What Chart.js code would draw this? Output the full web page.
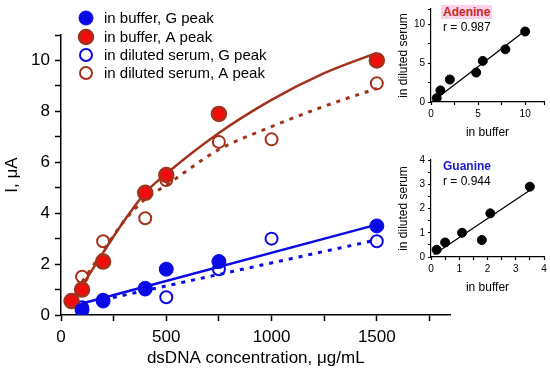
<!DOCTYPE html>
<html>
<head>
<meta charset="utf-8">
<script src="https://cdn.jsdelivr.net/npm/chart.js@4"></script>
<style>
  body { margin: 0; background: #fff; }
  #wrap { position: relative; width: 550px; height: 375px; overflow: hidden; font-family: "Liberation Sans", Arial, sans-serif; }
  canvas { position: absolute; }
  .lbl { position: absolute; font-size: 12px; line-height: 14px; white-space: nowrap; }
</style>
</head>
<body>
<div id="wrap">
  <canvas id="mainChart" width="460" height="375" style="left:0;top:0"></canvas>
  <canvas id="adenineChart" width="170" height="145" style="left:380px;top:0"></canvas>
  <canvas id="guanineChart" width="170" height="150" style="left:380px;top:150px"></canvas>
  <div class="lbl" style="left:441px;top:5px;color:#c8281e;font-weight:bold;background:#f8d2ea;padding:0 2px">Adenine</div>
  <div class="lbl" style="left:443px;top:20px">r = 0.987</div>
  <div class="lbl" style="left:443px;top:159px;color:#1a1ad0;font-weight:bold">Guanine</div>
  <div class="lbl" style="left:443px;top:174px">r = 0.944</div>
</div>
<script>
// Main chart data (dsDNA concentration, µg/mL vs I, µA)
const bufGConc = [100, 200, 400, 500, 750, 1500];
const bufGVals = [0.2, 0.55, 1.05, 1.8, 2.1, 3.5];
const bufAConc = [50, 100, 200, 400, 500, 750, 1500];
const bufAVals = [0.55, 1.0, 2.1, 4.8, 5.5, 7.9, 10.0];
const serGConc = [100, 200, 400, 500, 750, 1000, 1500];
const serGVals = [0.3, 0.6, 1.0, 0.7, 1.8, 3.0, 2.9];
const serAConc = [50, 100, 200, 400, 500, 750, 1000, 1500];
const serAVals = [0.5, 1.5, 2.9, 3.8, 5.3, 6.8, 6.9, 9.1];

// fitted curves
const fitABufX = [50, 100, 200, 300, 400, 500, 750, 1000, 1250, 1500];
const fitABufY = [0.55, 1.15, 2.45, 3.7, 4.8, 5.55, 7.15, 8.45, 9.5, 10.3];
const fitASerX = [100, 200, 300, 400, 500, 750, 1000, 1250, 1500];
const fitASerY = [1.3, 2.5, 3.7, 4.55, 5.1, 6.5, 7.4, 8.2, 8.9];
const fitGBufX = [100, 1500];
const fitGBufY = [0.45, 3.55];
const fitGSerX = [200, 1500];
const fitGSerY = [0.6, 2.95];

const legendLabels = ['in buffer, G peak', 'in buffer, A peak', 'in diluted serum, G peak', 'in diluted serum, A peak'];

// Insets: in buffer vs in diluted serum
const adeBuffer = [0.6, 1.0, 2.0, 4.8, 5.5, 7.9, 10.0];
const adeSerum = [0.5, 1.5, 2.9, 3.8, 5.3, 6.8, 9.1];
const adeLineX = [0.4, 10.1];
const adeLineY = [0.3, 9.3];
const guaBuffer = [0.2, 0.5, 1.1, 1.8, 2.1, 3.5];
const guaSerum = [0.3, 0.6, 1.0, 0.7, 1.8, 2.9];
const guaLineX = [0.1, 3.5];
const guaLineY = [0.1, 2.75];

const BLUE = '#0a0ae6';
const BROWN = '#a3321c';
const RED = '#f20d0d';
const FONT = '"Liberation Sans", Arial, sans-serif';

const pts = (xs, ys) => xs.map((x, i) => ({x: x, y: ys[i]}));

// custom legend drawn in the upper-left
const legendPlugin = {
  id: 'miniLegend',
  afterDraw(chart) {
    const ctx = chart.ctx;
    const rows = [18, 37, 55, 73];
    ctx.save();
    chart.data.datasets.slice(0, 4).forEach((ds, i) => {
      ctx.beginPath();
      ctx.arc(86, rows[i], i < 2 ? 7 : 6, 0, Math.PI * 2);
      ctx.fillStyle = ds.backgroundColor;
      ctx.fill();
      ctx.lineWidth = ds.borderWidth;
      ctx.strokeStyle = ds.borderColor;
      ctx.stroke();
      ctx.fillStyle = '#000';
      ctx.font = '15px ' + FONT;
      ctx.textBaseline = 'middle';
      ctx.fillText(legendLabels[i], 104, rows[i] + 1);
    });
    ctx.restore();
  }
};

const axisBase = {
  border: {color: '#000', width: 1.5},
  grid: {drawOnChartArea: false, drawTicks: true, tickLength: 6, tickColor: '#000', tickWidth: 1.5}
};

new Chart(document.getElementById('mainChart'), {
  type: 'scatter',
  data: {
    datasets: [
      {data: pts(bufGConc, bufGVals), backgroundColor: BLUE, borderColor: BLUE, borderWidth: 1, pointRadius: 7},
      {data: pts(bufAConc, bufAVals), backgroundColor: RED, borderColor: BROWN, borderWidth: 2.5, pointRadius: 7},
      {data: pts(serGConc, serGVals), backgroundColor: 'rgba(255,255,255,0)', borderColor: BLUE, borderWidth: 2, pointRadius: 6},
      {data: pts(serAConc, serAVals), backgroundColor: 'rgba(255,255,255,0)', borderColor: BROWN, borderWidth: 2, pointRadius: 6},
      {data: pts(fitABufX, fitABufY), showLine: true, pointRadius: 0, borderColor: BROWN, borderWidth: 2.5, cubicInterpolationMode: 'monotone'},
      {data: pts(fitASerX, fitASerY), showLine: true, pointRadius: 0, borderColor: BROWN, borderWidth: 3, borderDash: [4, 6], cubicInterpolationMode: 'monotone'},
      {data: pts(fitGBufX, fitGBufY), showLine: true, pointRadius: 0, borderColor: BLUE, borderWidth: 2.5},
      {data: pts(fitGSerX, fitGSerY), showLine: true, pointRadius: 0, borderColor: BLUE, borderWidth: 3, borderDash: [4, 6]}
    ]
  },
  options: {
    responsive: false,
    animation: false,
    layout: {padding: {top: 35, right: 9, left: 0, bottom: 0}},
    plugins: {legend: {display: false}, tooltip: {enabled: false}},
    scales: {
      x: {
        ...axisBase,
        type: 'linear', min: 0, max: 1850,
        afterFit(scale) { scale.height = 60; },
        ticks: {stepSize: 250, includeBounds: false, autoSkip: false, maxRotation: 0, padding: 6, color: '#000',
          font: {family: FONT, size: 17},
          callback: v => (v % 500 === 0 ? v : '')},
        title: {display: true, text: 'dsDNA concentration, \u03bcg/mL', color: '#000',
          font: {family: FONT, size: 17}, padding: {top: 0, bottom: 6}}
      },
      y: {
        ...axisBase,
        min: 0, max: 11,
        afterFit(scale) { scale.width = 61; },
        ticks: {stepSize: 1, autoSkip: false, padding: 5, color: '#000',
          font: {family: FONT, size: 17},
          callback: v => (v % 2 === 0 ? v : '')},
        title: {display: true, text: 'I, \u03bcA', color: '#000',
          font: {family: FONT, size: 17}, padding: {top: 2, bottom: 0}}
      }
    }
  },
  plugins: [legendPlugin]
});

function insetChart(id, xs, ys, lx, ly, maxV, step, labelStep, topPad, chartBottom) {
  const canvas = document.getElementById(id);
  return new Chart(canvas, {
    type: 'scatter',
    data: {
      datasets: [
        {data: pts(xs, ys), backgroundColor: '#000', borderColor: '#000', pointRadius: 4.5},
        {data: pts(lx, ly), showLine: true, pointRadius: 0, borderColor: '#000', borderWidth: 1.3}
      ]
    },
    options: {
      responsive: false,
      animation: false,
      layout: {padding: {top: topPad, right: 6, left: 0, bottom: 0}},
      plugins: {legend: {display: false}, tooltip: {enabled: false}},
      scales: {
        x: {
          border: {color: '#000', width: 1.2},
          grid: {drawOnChartArea: false, tickLength: 3, tickColor: '#000', tickWidth: 1.2},
          min: 0, max: maxV,
          afterFit(scale) { scale.height = canvas.height - chartBottom; },
          ticks: {stepSize: step, autoSkip: false, maxRotation: 0, padding: 3, color: '#000',
            font: {family: FONT, size: 10},
            callback: v => (Math.abs(v / labelStep - Math.round(v / labelStep)) < 1e-6 ? v : '')},
          title: {display: true, text: 'in buffer', color: '#000', font: {family: FONT, size: 12},
            padding: {top: 0, bottom: 5}}
        },
        y: {
          border: {color: '#000', width: 1.2},
          grid: {drawOnChartArea: false, tickLength: 3, tickColor: '#000', tickWidth: 1.2},
          min: 0, max: maxV,
          afterFit(scale) { scale.width = 51; },
          ticks: {stepSize: step, autoSkip: false, padding: 3, color: '#000',
            font: {family: FONT, size: 10},
            callback: v => (Math.abs(v / labelStep - Math.round(v / labelStep)) < 1e-6 ? v : '')},
          title: {display: true, text: 'in diluted serum', color: '#000', font: {family: FONT, size: 12},
            padding: {top: 16, bottom: 0}}
        }
      }
    }
  });
}

insetChart('adenineChart', adeBuffer, adeSerum, adeLineX, adeLineY, 12, 2.5, 5, 5, 102);
insetChart('guanineChart', guaBuffer, guaSerum, guaLineX, guaLineY, 4, 0.5, 1, 10, 107);
</script>
</body>
</html>
